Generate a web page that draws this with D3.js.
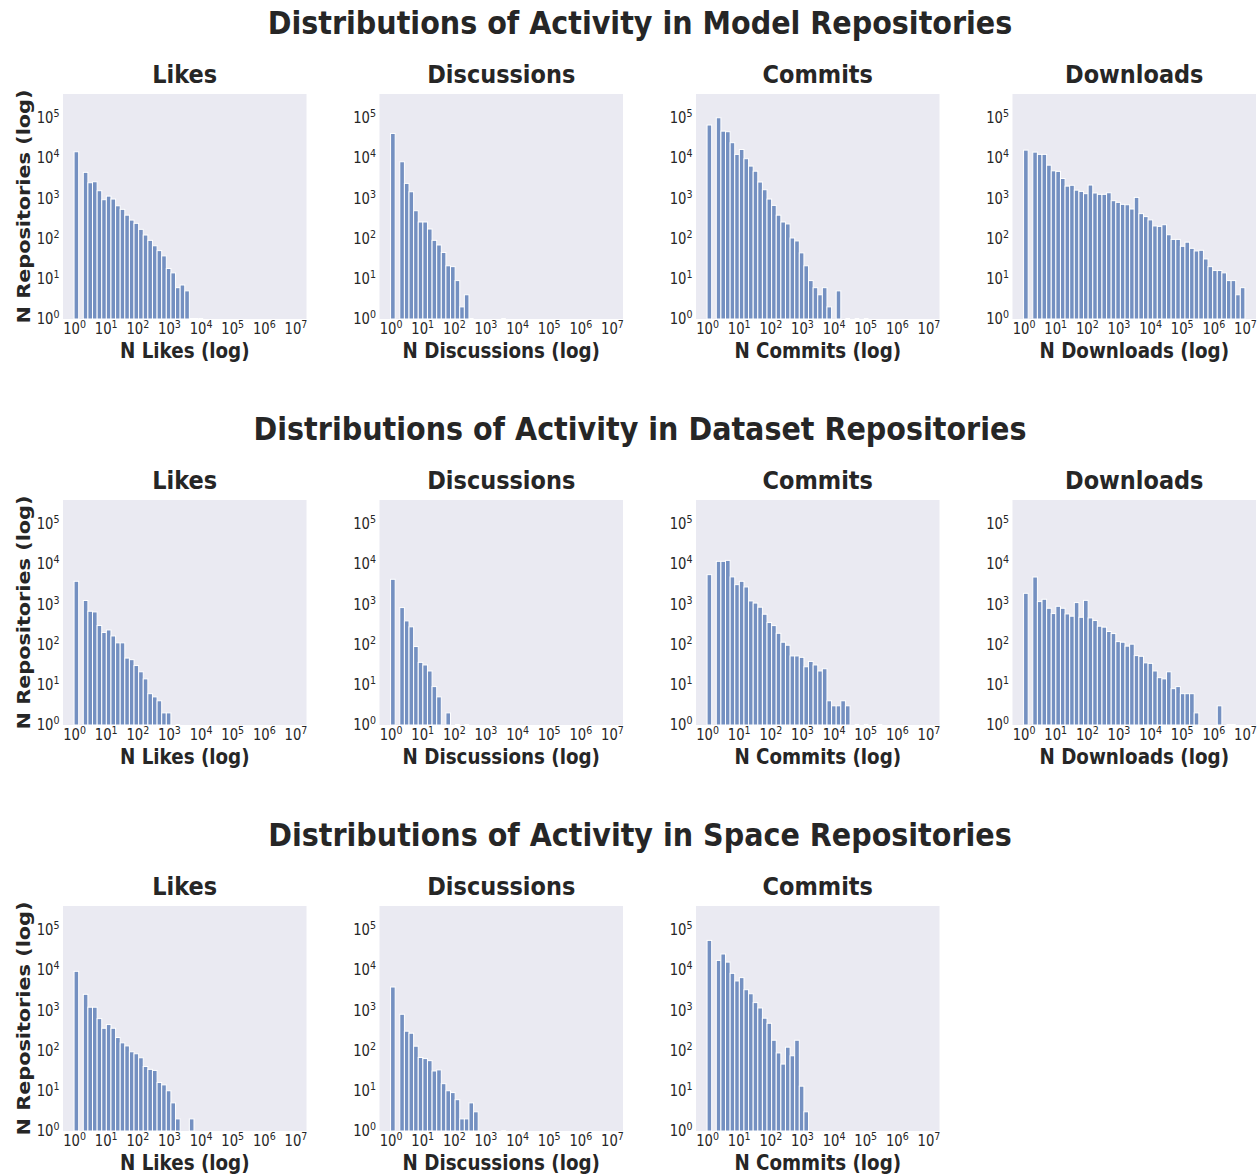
<!DOCTYPE html>
<html><head><meta charset="utf-8">
<script src="https://cdn.jsdelivr.net/npm/d3@7"></script>
<style>
body{margin:0;background:#fff}
svg{display:block}
text{font-family:"DejaVu Sans",sans-serif;fill:#262626}
</style>
</head><body>
<svg id="c" width="1260" height="1175"></svg>
<script>
// ---------- data ----------
const rowTitles = [
  "Distributions of Activity in Model Repositories",
  "Distributions of Activity in Dataset Repositories",
  "Distributions of Activity in Space Repositories"
];
const panelTitles = ["Likes", "Discussions", "Commits", "Downloads"];
const xLabels = ["N Likes (log)", "N Discussions (log)", "N Commits (log)", "N Downloads (log)"];
const yLabel = "N Repositories (log)";
const xTickExps = [0, 1, 2, 3, 4, 5, 6, 7];
const yTickExps = [0, 1, 2, 3, 4, 5];
// histogram bins: 48 equal bins in log10 space from 10^0 to 10^7
const BIN_COUNT = 48, LOG_MIN = 0, LOG_MAX = 7;

// counts per bin (index = bin number)
const modelLikes = [14300,0,4400,2430,2570,1540,920,1130,955,650,530,380,287,238,169,122,90,66,50,37,18,14,6,7,5,1,1,1];
const modelDiscussions = [40700,0,8070,2340,1450,490,257,257,172,90,69,45,21,20,9,2,4,1,0,0,0,0,0,0,1];
const modelCommits = [66000,0,100000,46500,45000,24000,12300,16300,9600,6300,4700,2530,1630,955,665,380,257,230,103,87,44,21,9,6,4,6,2,0,5,0,1,0,1,0,1];
const modelDownloads = [15700,0,14000,12300,12300,6640,4800,4650,3100,2000,2100,1590,1480,1300,2130,1350,1250,1250,1370,870,790,705,690,540,1050,415,350,290,205,200,220,124,95,95,64,81,57,49,51,31,20,16,16,14,9,9,4,6];

const datasetLikes = [3720,0,1240,670,645,296,199,230,163,110,110,46,42,30,21,14,6,5,4,2,2,0,1];
const datasetDiscussions = [4170,0,826,386,275,89,36,31,22,9,5,0,2,0,1,0,1];
const datasetCommits = [5440,0,11650,11650,12300,4780,3070,3720,2690,1210,1070,845,565,351,295,190,114,96,52,52,48,28,38,31,22,25,4,3,3,4,3,0,1,0,1,0,0,1];
const datasetDownloads = [1870,0,4750,1165,1330,795,587,890,795,575,505,1100,475,1250,458,394,285,270,210,187,118,114,91,102,53,51,35,34,22,15,14,21,8,9,6,6,6,2,0,0,0,0,3,0,1,1];

const spaceLikes = [9270,0,2490,1190,1190,620,357,441,357,210,155,130,93,83,66,40,34,32,16,14,10,5,2,0,0,2];
const spaceDiscussions = [3780,0,795,302,269,128,67,63,56,31,33,15,10,9,6,2,2,5,3,0,0,0,0,0,1,0,0,0,1];
const spaceCommits = [54400,0,17300,25000,15700,8260,5340,6460,3240,2570,1550,1140,635,475,180,87,46,121,74,180,13,3];

const rows = [
  [modelLikes, modelDiscussions, modelCommits, modelDownloads],
  [datasetLikes, datasetDiscussions, datasetCommits, datasetDownloads],
  [spaceLikes, spaceDiscussions, spaceCommits]
];

// ---------- layout ----------
const colLeft = [63, 379.5, 696, 1012.5];
const plotW = 243.5, plotH = 225;
const rowTop = [94, 500, 906];
const rowStep = 406;
const BG = "#EAEAF2", BAR = "#4C72B0";
const SQ = 0.88; // horizontal text compression of the reference

const svg = d3.select("#c");
const binW = (LOG_MAX - LOG_MIN) / BIN_COUNT;

function supLabel(sel, exp) {
  sel.text(null);
  sel.append("tspan").text("10");
  sel.append("tspan").attr("font-size", 10.8).attr("dy", -6).text(exp);
}
function placeText(parent, x, y, str, size, extra) {
  return parent.append("text")
    .attr("transform", `translate(${x},${y}) scale(${SQ},1)` + (extra || ""))
    .attr("text-anchor", "middle").attr("font-size", size).attr("font-weight", "bold")
    .text(str);
}

rows.forEach((panels, r) => {
  const top = rowTop[r];
  placeText(svg, 640, 33.5 + r * rowStep, rowTitles[r], 32.5);

  panels.forEach((counts, c) => {
    const left = colLeft[c];
    const g = svg.append("g").attr("transform", `translate(${left},${top})`);
    const x = d3.scaleLog().domain([10 ** -0.35, 10 ** 7.35]).range([0, plotW]);
    const y = d3.scaleLog().domain([1, 10 ** 5.59]).range([plotH, 0]);

    g.append("rect").attr("width", plotW).attr("height", plotH).attr("fill", BG);

    const bins = counts.map((v, i) => ({
      v, x0: 10 ** (LOG_MIN + i * binW), x1: 10 ** (LOG_MIN + (i + 1) * binW)
    }));
    g.selectAll("rect.bar").data(bins.filter(d => d.v > 1)).join("rect")
      .attr("class", "bar")
      .attr("x", d => x(d.x0)).attr("width", d => x(d.x1) - x(d.x0))
      .attr("y", d => y(d.v)).attr("height", d => plotH - y(d.v))
      .attr("fill", BAR).attr("fill-opacity", 0.75)
      .attr("stroke", "#fff").attr("stroke-width", 1);
    g.selectAll("line.one").data(bins.filter(d => d.v === 1)).join("line")
      .attr("class", "one")
      .attr("x1", d => x(d.x0)).attr("x2", d => x(d.x1))
      .attr("y1", plotH - 0.5).attr("y2", plotH - 0.5)
      .attr("stroke", "#fff").attr("stroke-width", 1);

    const xa = g.append("g").attr("transform", `translate(0,${plotH})`)
      .call(d3.axisBottom(x).tickValues(xTickExps.map(e => 10 ** e)).tickSize(0).tickPadding(4.8).tickFormat(""));
    xa.select(".domain").remove();
    xa.selectAll(".tick text").each(function (d, i) {
      const t = d3.select(this);
      t.attr("font-size", 15).attr("font-family", "DejaVu Sans").attr("fill", "#262626")
        .attr("transform", `scale(${SQ},1)`);
      supLabel(t, xTickExps[i]);
    });

    const ya = g.append("g")
      .call(d3.axisLeft(y).tickValues(yTickExps.map(e => 10 ** e)).tickSize(0).tickPadding(4).tickFormat(""));
    ya.select(".domain").remove();
    ya.selectAll(".tick text").each(function (d, i) {
      const t = d3.select(this);
      t.attr("font-size", 15).attr("font-family", "DejaVu Sans").attr("fill", "#262626")
        .attr("transform", `scale(${SQ},1)`);
      supLabel(t, yTickExps[i]);
    });

    placeText(g, plotW / 2, -11.5, panelTitles[c], 25.5);
    placeText(g, plotW / 2, plotH + 39, xLabels[c], 20.8);
    if (c === 0) {
      placeText(g, 29.5 - left, plotH / 2, yLabel, 20.8, " rotate(-90)");
    }
  });
});
</script>
</body></html>
